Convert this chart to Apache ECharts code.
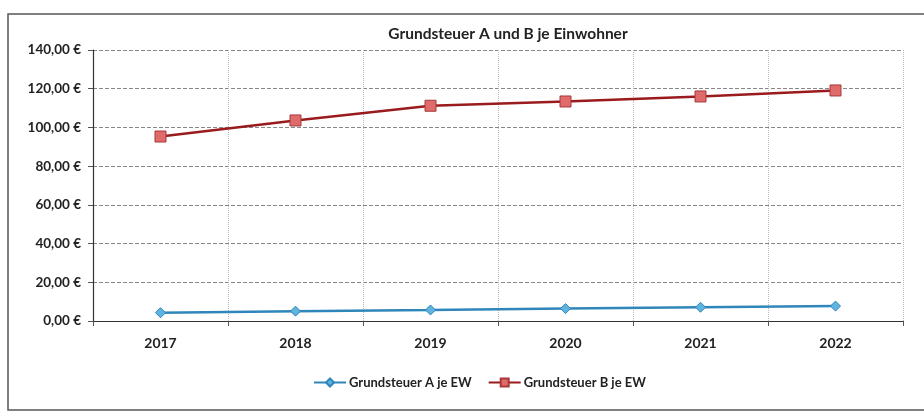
<!DOCTYPE html>
<html>
<head>
<meta charset="utf-8">
<script src="https://cdn.jsdelivr.net/npm/echarts@6/dist/echarts.min.js"></script>
<style>
html,body{margin:0;padding:0;background:#fff;}
#chart{width:924px;height:412px;}
</style>
</head>
<body>
<div id="chart"></div>
<script>
// Jahre und Werte je Einwohner (Euro)
var years = ['2017', '2018', '2019', '2020', '2021', '2022'];
var steuerA = [4.3, 5.1, 5.7, 6.4, 7.1, 7.7];
var steuerB = [95.3, 103.6, 111.2, 113.4, 116.0, 119.1];
var yTicks = [0, 20, 40, 60, 80, 100, 120, 140];

var font = 'Lato, "Open Sans", sans-serif';
function euro(v) { return v.toFixed(2).replace('.', ',') + ' €'; }

var chart = echarts.init(document.getElementById('chart'));
chart.setOption({
  backgroundColor: '#fff',
  animation: false,
  title: {
    text: 'Grundsteuer A und B je Einwohner',
    left: 503, top: 21, textAlign: 'center',
    textStyle: { fontFamily: font, fontSize: 15.5, fontWeight: 'bold', color: '#222' }
  },
  legend: {
    top: 371, left: 308, itemGap: 16, itemWidth: 32, itemHeight: 10,
    textStyle: { fontFamily: font, fontSize: 13, fontWeight: 'bold', color: '#222', padding: [0, 0, 0, -2] },
    data: ['Grundsteuer A je EW', 'Grundsteuer B je EW']
  },
  graphic: [{
    type: 'rect', silent: true,
    shape: { x: 8, y: 14, width: 930, height: 396 },
    style: { fill: 'none', stroke: '#555', lineWidth: 1.5 }
  }],
  grid: { left: 93, right: 21, top: 50, bottom: 91 },
  xAxis: [{
    type: 'category', data: years, boundaryGap: true,
    axisLine: { lineStyle: { color: '#333', width: 1.2 } },
    axisTick: { show: true, length: 5, lineStyle: { color: '#555' } },
    axisLabel: { fontFamily: font, fontSize: 14, fontWeight: 'bold', color: '#222', margin: 15 },
    splitLine: { show: true, lineStyle: { color: '#bbb', type: 'dotted', width: 1 } }
  }, {
    // Hilfsachse für die senkrechten Gitterlinien in der Mitte jeder Kategorie
    type: 'value', min: -0.5, max: 5.5, interval: 1, show: true, position: 'bottom',
    axisLine: { show: false }, axisTick: { show: false }, axisLabel: { show: false },
    splitLine: { show: true, lineStyle: { color: '#bbb', type: 'dotted', width: 1 } }
  }],
  yAxis: {
    type: 'value', min: yTicks[0], max: yTicks[yTicks.length - 1], interval: 20,
    axisLine: { show: true, onZero: false, lineStyle: { color: '#333', width: 1.2 } },
    axisTick: { show: true, length: 5, lineStyle: { color: '#555' } },
    axisLabel: { fontFamily: font, fontSize: 13.5, fontWeight: 'bold', color: '#222', margin: 12,
      formatter: function (v) { return euro(v); } },
    splitLine: { show: true, lineStyle: { color: '#888', type: 'dashed', width: 1 } }
  },
  series: [{
    name: 'Grundsteuer A je EW', type: 'line', data: steuerA, xAxisIndex: 0,
    symbol: 'diamond', symbolSize: 10,
    lineStyle: { color: '#2f86bb', width: 2.5 },
    itemStyle: { color: '#5fb3df', borderColor: '#2f86bb', borderWidth: 1 }
  }, {
    name: 'Grundsteuer B je EW', type: 'line', data: steuerB, xAxisIndex: 0,
    symbol: 'rect', symbolSize: 11,
    lineStyle: { color: '#9a1b1e', width: 2.5 },
    itemStyle: { color: '#e06b6b', borderColor: '#a8383a', borderWidth: 1 }
  }]
});
</script>
</body>
</html>
